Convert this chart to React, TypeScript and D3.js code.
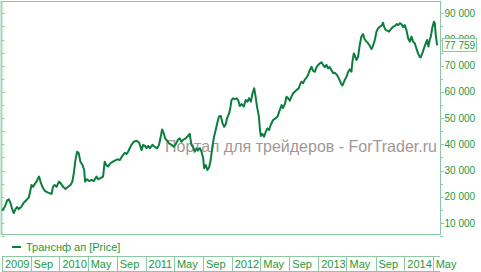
import React from "react";
import * as d3 from "d3";

const dates = [
"2009-05-03","2009-05-06","2009-05-15","2009-05-25","2009-06-01","2009-06-08","2009-06-15","2009-06-22","2009-06-29","2009-07-06",
"2009-07-13","2009-07-24","2009-08-03","2009-08-15","2009-08-25","2009-09-05","2009-09-12","2009-09-19","2009-09-26","2009-10-03",
"2009-10-07","2009-10-13","2009-10-21","2009-10-31","2009-11-14","2009-11-29","2009-12-05","2009-12-12","2009-12-20","2009-12-30",
"2010-01-07","2010-01-17","2010-01-27","2010-02-07","2010-02-17","2010-02-25","2010-03-03","2010-03-10","2010-03-17","2010-03-24",
"2010-03-31","2010-04-09","2010-04-16","2010-04-20","2010-04-28","2010-05-07","2010-05-17","2010-05-27","2010-06-07","2010-06-14",
"2010-06-24","2010-07-05","2010-07-12","2010-07-19","2010-07-26","2010-08-05","2010-08-16","2010-08-28","2010-09-06","2010-09-14",
"2010-09-25","2010-10-05","2010-10-12","2010-10-19","2010-10-26","2010-11-02","2010-11-12","2010-11-24","2010-12-05","2010-12-15",
"2010-12-22","2010-12-29","2011-01-05","2011-01-12","2011-01-19","2011-01-30","2011-02-09","2011-02-19","2011-02-27","2011-03-05",
"2011-03-12","2011-03-19","2011-03-25","2011-04-02","2011-04-11","2011-04-21","2011-05-01","2011-05-09","2011-05-19","2011-05-26",
"2011-06-02","2011-06-09","2011-06-20","2011-06-30","2011-07-07","2011-07-14","2011-07-21","2011-07-28","2011-08-05","2011-08-11",
"2011-08-19","2011-08-26","2011-09-02","2011-09-06","2011-09-13","2011-09-20","2011-09-27","2011-10-04","2011-10-11","2011-10-18",
"2011-10-25","2011-11-02","2011-11-08","2011-11-16","2011-11-23","2011-11-30","2011-12-07","2011-12-12","2011-12-21","2011-12-26",
"2011-12-31","2012-01-07","2012-01-14","2012-01-21","2012-01-28","2012-02-04","2012-02-11","2012-02-21","2012-02-29","2012-03-08",
"2012-03-14","2012-03-22","2012-03-29","2012-04-05","2012-04-11","2012-04-17","2012-04-25","2012-04-29","2012-05-03","2012-05-10",
"2012-05-17","2012-05-24","2012-05-31","2012-06-07","2012-06-14","2012-06-24","2012-07-04","2012-07-13","2012-07-20","2012-07-30",
"2012-08-05","2012-08-13","2012-08-20","2012-08-27","2012-09-03","2012-09-10","2012-09-17","2012-09-24","2012-10-01","2012-10-11",
"2012-10-18","2012-10-22","2012-10-29","2012-11-05","2012-11-13","2012-11-19","2012-11-27","2012-12-04","2012-12-10","2012-12-18",
"2012-12-25","2013-01-01","2013-01-08","2013-01-15","2013-01-22","2013-01-29","2013-02-05","2013-02-12","2013-02-19","2013-02-26",
"2013-03-05","2013-03-12","2013-03-22","2013-03-31","2013-04-10","2013-04-14","2013-04-24","2013-05-01","2013-05-08","2013-05-15",
"2013-05-22","2013-05-26","2013-06-01","2013-06-06","2013-06-12","2013-06-19","2013-06-26","2013-07-03","2013-07-10","2013-07-17",
"2013-07-25","2013-07-31","2013-08-08","2013-08-15","2013-08-20","2013-08-29","2013-09-05","2013-09-12","2013-09-19","2013-09-26",
"2013-10-03","2013-10-07","2013-10-14","2013-10-20","2013-10-28","2013-11-08","2013-11-15","2013-11-22","2013-11-29","2013-12-06",
"2013-12-13","2013-12-20","2013-12-27","2014-01-03","2014-01-10","2014-01-17","2014-01-24","2014-01-31","2014-02-07","2014-02-14",
"2014-02-21","2014-02-28","2014-03-07","2014-03-11","2014-03-19","2014-03-25","2014-04-02","2014-04-07","2014-04-13","2014-04-19",
"2014-04-23","2014-04-29","2014-05-06","2014-05-10","2014-05-14","2014-05-20"
];

const prices = [
14800,15000,16200,18600,19000,17600,15300,13800,15300,16100,
15300,16200,17700,18800,19800,24500,23800,24900,25800,27100,
27700,25800,23800,22300,21600,21100,23800,24500,23800,25800,
25100,23800,23000,23800,24500,25800,29000,34000,37200,36600,
33400,32100,30200,25800,26700,26000,26400,26000,27700,26700,
27100,27700,33400,32100,31500,32800,33400,34000,34300,34000,
35600,36800,36300,37200,38500,39800,41000,41400,40600,37800,
39800,39400,38500,39400,38500,39800,39100,38500,39800,42300,
45700,44200,42300,41400,40400,39800,39100,40100,41900,42300,
41000,41700,42300,43200,44000,39800,39100,37200,38500,37800,
38500,37200,34700,30900,32100,30200,31200,34000,39100,42900,
45500,48600,50600,50800,48000,46700,47800,49900,51900,53900,
56900,57600,57200,57600,56900,54600,55400,54400,56900,56300,
57600,56300,59500,61400,58200,54400,50600,46100,43200,44000,
42900,44800,46100,45500,47400,49300,49900,50600,52500,55000,
53800,55400,58200,57600,56700,58200,59500,60100,60700,61400,
63300,63900,63300,64600,65600,66500,68400,69600,68100,67700,
69400,70300,70900,71300,70300,69400,70300,69000,69500,68400,
67200,67300,66500,64900,62800,62500,64600,65800,67700,68600,
67700,71500,74700,73700,72200,73400,77900,81100,82100,80100,
79200,78600,77500,76400,77300,79800,83000,84300,84900,85200,
86400,84900,83600,83400,83000,84300,84900,85200,85900,85500,
86200,85900,84700,85500,83600,80500,79200,81100,79200,78600,
76600,74700,73400,73200,75000,76600,78600,79800,77300,80100,
81100,84300,86800,86300,81700,77759
];

const xDomain = ["2009-05-03", "2014-06-01"];
const xTickDates = [
"2009-05-03","2009-09-01","2010-01-01","2010-05-01","2010-09-01","2011-01-01","2011-05-01","2011-09-01",
"2012-01-01","2012-05-01","2012-09-01","2013-01-01","2013-05-01","2013-09-01","2014-01-01","2014-05-01"
];
const xTickLabels = ["2009","Sep","2010","May","Sep","2011","May","Sep","2012","May","Sep","2013","May","Sep","2014","May"];

const yTicks = [10000, 20000, 30000, 40000, 50000, 60000, 70000, 80000, 90000];
const yMinorTicks = [5000, 10000, 15000, 20000, 25000, 30000, 35000, 40000, 45000, 50000, 55000, 60000, 65000, 70000, 75000, 80000, 85000, 90000];
const seriesName = "Транснф ап [Price]";
const lastValue = 77759;
const watermark = "Портал для трейдеров - ForTrader.ru";

const FONT = "'Liberation Sans', Arial, sans-serif";
const LINE = "#0b7d3e";
const TEXT = "#23993a";
const FRAME = "#8cc9a2";

export default function App() {
  const parse = d3.timeParse("%Y-%m-%d");
  const left = 2, right = 440, top = 1.5, bottom = 234;
  const x = d3.scaleTime().domain(xDomain.map((d) => parse(d) as Date)).range([left, right]);
  const y = d3.scaleLinear().domain([10000, 90000]).range([223, 13.3]);
  const fmt = (v: number) => d3.format(",")(v).replace(/,/g, " ");

  const data = dates.map((d, i) => ({ date: parse(d) as Date, v: prices[i] }));
  const line = d3.line<{ date: Date; v: number }>().x((d) => x(d.date)).y((d) => y(d.v));
  const path = line(data) || "";

  const tickXs = xTickDates.map((d) => x(parse(d) as Date));

  return (
    <svg width={481} height={272} style={{ position: "absolute", left: 0, top: 0, background: "#fff" }} fontFamily={FONT}>
      <rect x={0} y={0} width={481} height={272} fill="#fff" />
      {/* frame */}
      <line x1={1.5} x2={1.5} y1={1} y2={bottom + 0.5} stroke={FRAME} strokeWidth={2} opacity={0.8} />
      <line x1={1} x2={right + 0.5} y1={top} y2={top} stroke={FRAME} strokeWidth={1} />
      <line x1={1} x2={right + 0.5} y1={bottom + 0.5} y2={bottom + 0.5} stroke={FRAME} strokeWidth={1} />
      <line x1={right + 0.5} x2={right + 0.5} y1={1} y2={bottom + 0.5} stroke={FRAME} strokeWidth={1} />
      {/* left inner ticks */}
      {yMinorTicks.map((t) => (
        <line key={"l" + t} x1={2} x2={4.5} y1={Math.round(y(t)) + 0.5} y2={Math.round(y(t)) + 0.5} stroke={FRAME} strokeWidth={1} />
      ))}
      {/* right ticks */}
      {yMinorTicks.map((t) => (
        <line key={"r" + t} x1={right} x2={t % 10000 === 0 ? right + 4 : right + 3} y1={Math.round(y(t)) + 0.5} y2={Math.round(y(t)) + 0.5} stroke={FRAME} strokeWidth={1} />
      ))}
      {yTicks.map((t) => (
        <text key={"t" + t} x={right + 4.5} y={y(t)} dy="0.35em" fontSize={10} fill={TEXT}>
          {fmt(t)}
        </text>
      ))}
      {/* watermark */}
      <text x={165} y={152} fontSize={16.5} fill="#a39696" textLength={272} lengthAdjust="spacingAndGlyphs">
        {watermark}
      </text>
      {/* price line */}
      <path d={path} fill="none" stroke={LINE} strokeWidth={2} strokeLinejoin="round" />
      {/* last value box */}
      <rect x={442.5} y={Math.round(y(lastValue)) - 6.5} width={34} height={13} fill="#fff" stroke={FRAME} strokeWidth={1} />
      <text x={444.5} y={y(lastValue)} dy="0.35em" fontSize={10} fill={TEXT}>
        {fmt(lastValue)}
      </text>
      {/* legend */}
      <line x1={12} x2={21} y1={247} y2={247} stroke={LINE} strokeWidth={2} />
      <text x={26} y={251} fontSize={11} fill={TEXT}>
        {seriesName}
      </text>
      {/* bottom time axis boxes */}
      <line x1={left} x2={right} y1={256.5} y2={256.5} stroke={FRAME} strokeWidth={1} />
      <line x1={left} x2={right} y1={271.5} y2={271.5} stroke={FRAME} strokeWidth={1} />
      {tickXs.map((tx, i) => (
        <line key={"d" + i} x1={Math.round(tx) + 0.5} x2={Math.round(tx) + 0.5} y1={256} y2={272} stroke={FRAME} strokeWidth={1} />
      ))}
      {tickXs.map((tx, i) => (
        <text key={"xl" + i} x={tx + 3} y={268} fontSize={11} fill={TEXT}>
          {xTickLabels[i]}
        </text>
      ))}
    </svg>
  );
}
